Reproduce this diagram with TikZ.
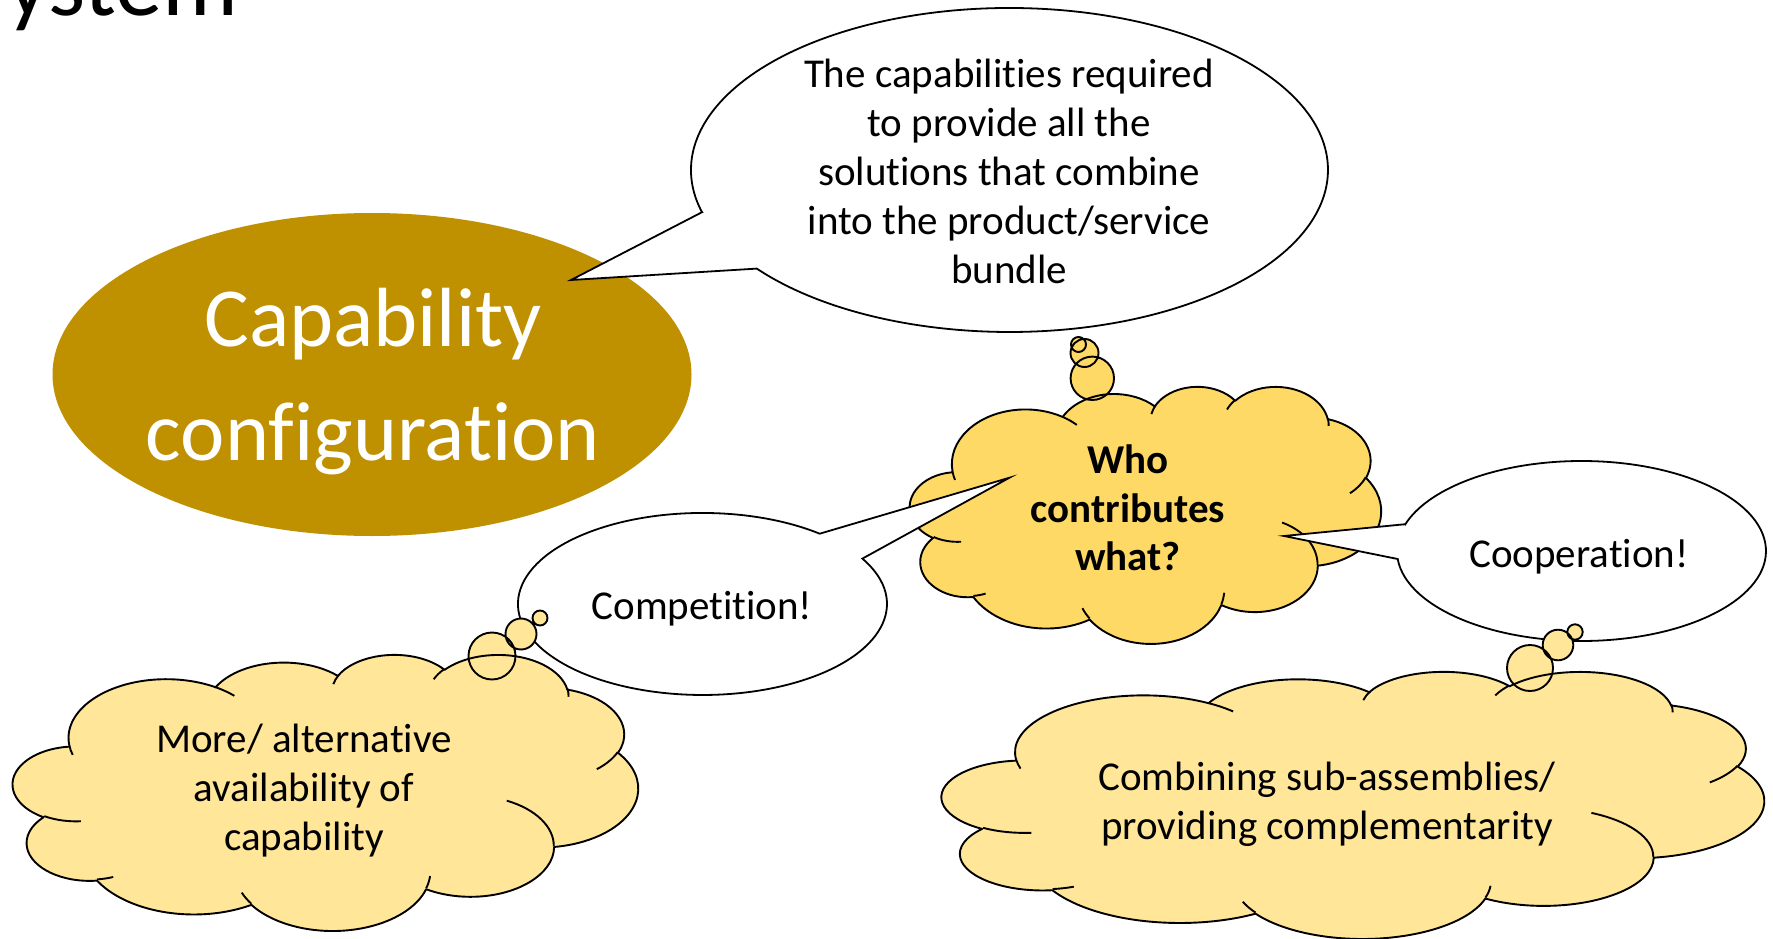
\documentclass[tikz,border=0pt]{standalone}
\usepackage{fontspec}
\setmainfont{Carlito}[Ligatures=NoCommon]
\definecolor{capgold}{HTML}{BF9000}
\definecolor{cloudhi}{HTML}{FFD966}
\definecolor{cloudlo}{HTML}{FFE699}
% PowerPoint cloud outline, in a 432 x 432 box
\newcommand\cldbody{(39.00,143.70)
 arc[oa={67.53}{91.90}{-190.48748}{123.78053}]
 arc[oa={53.33}{72.67}{-144.10238}{89.94523}]
 arc[oa={43.65}{59.45}{-145.80792}{99.72302}]
 arc[oa={48.57}{65.95}{-130.98607}{117.24173}]
 arc[oa={53.33}{72.73}{-78.70888}{109.02692}]
 arc[oa={67.75}{92.20}{-46.26725}{130.26900}]
 arc[oa={57.85}{78.67}{0.62502}{114.03333}]
 arc[oa={67.52}{92.15}{22.45160}{115.17255}]
 arc[oa={77.20}{105.43}{66.24263}{75.71102}]
 arc[oa={43.60}{59.18}{-274.94208}{146.73557}]
 arc[oa={43.45}{59.45}{-246.82850}{152.51885}]
 -- cycle}
\newcommand\cldinner{
 (46.93,261.77) arc[oa={43.45}{59.45}{86.74200}{26.42950}]
 (69.28,348.99) arc[oa={43.60}{59.18}{73.61047}{11.44747}]
 (164.78,390.90) arc[oa={67.52}{92.15}{137.62415}{14.08110}]
 (288.27,347.51) arc[oa={67.52}{92.15}{6.45327}{15.99835}]
 (341.29,229.54) arc[oa={57.85}{78.67}{-70.29235}{70.91737}]
 (417.98,153.54) arc[oa={53.33}{72.73}{30.31803}{27.75150}]
 (383.24,54.26) arc[oa={48.57}{65.95}{-13.74433}{14.85890}]
 (290.78,39.52) arc[oa={48.57}{65.95}{-149.18145}{18.19537}]
 (221.41,47.20) arc[oa={43.65}{59.45}{-163.49427}{17.68635}]
 (140.00,51.92) arc[oa={67.53}{91.90}{-66.70695}{12.31935}]
 (41.27,157.89) arc[oa={67.53}{91.90}{157.65435}{11.85817}]
}
\begin{document}
\begin{tikzpicture}[x=1pt,y=-1pt,
  declare function={vp(\va,\ra,\rb)=\va+mod(atan2(\ra*sin(\va),\rb*cos(\va))-\va+540,360)-180;},
  oa/.code n args={4}{\pgfmathsetmacro\oaS{vp(#3,#1,#2)}\pgfmathsetmacro\oaE{vp(#3+#4,#1,#2)}\tikzset{x radius=#1,y radius=#2,start angle=\oaS,end angle=\oaE}},
  cl/.style={draw=black,line width=1.9pt,line join=round},
  bubble/.style={fill=white,draw=black,line width=1.8pt,line join=miter},
  txt/.style={font=\fontsize{41}{49}\selectfont,align=center,inner sep=0pt,text=black}]
\useasboundingbox (0,0) rectangle (1773,939);
\fill[white] (0,0) rectangle (1773,939);

% title fragment
\node[anchor=base west,inner sep=0pt,font=\fontsize{95}{114}\selectfont] (title) at (6,16) {ystem};

% Capability configuration
\fill[capgold] (372,374.5) ellipse[x radius=319.5,y radius=161.5];
\node[align=center,inner sep=0pt,text=white,font=\fontsize{84}{114}\selectfont] (capTxt) at (373,381.8) {Capability\\configuration};

% top speech bubble
\draw[bubble] (702.0,212.2) -- (571,280) -- (756.8,268.6) arc[start angle=142.5,end angle=-195.1,x radius=318.5,y radius=162] -- cycle;
\node[txt] (bTxt) at (1009,171) {The capabilities required\\to provide all the\\solutions that combine\\into the product/service\\bundle};

% cloud C: who contributes what
\begin{scope}[shift={(910,386)},x=1.09028pt,y=-0.59491pt]
  \fill[cloudhi] \cldbody;
\end{scope}
\fill[cloudhi] (1092.3,378.3) circle[radius=21.7] (1084.5,353) circle[radius=14] (1078.5,344.5) circle[radius=7.5];
\begin{scope}[shift={(910,386)},x=1.09028pt,y=-0.59491pt]
  \draw[cl] \cldbody;
  \draw[cl] \cldinner;
\end{scope}
\draw[cl] (1092.3,378.3) circle[radius=21.7] (1084.5,353) circle[radius=14] (1078.5,344.5) circle[radius=7.5];
\node[txt,font=\fontsize{41}{48.6}\selectfont\bfseries] (cTxt) at (1128,508) {Who\\contributes\\what?};

% Competition bubble
\draw[bubble] (819.7,533.7) -- (1009.5,477.7) -- (862.4,558.6) arc[start angle=-29.9,end angle=309.4,x radius=184.5,y radius=91] -- cycle;
\node[txt,anchor=base] (dTxt) at (702,619) {Competition!};

% Cooperation bubble
\draw[bubble] (1405.3,524.2) -- (1284,536) -- (1397.7,559.0) arc[start angle=174.9,end angle=-162.7,x radius=184.5,y radius=90] -- cycle;
\node[txt,anchor=base] (eTxt) at (1579,567) {Cooperation!};

% cloud F
\begin{scope}[shift={(13,654)},x=1.44676pt,y=-0.63889pt]
  \fill[cloudlo] \cldbody;
\end{scope}
\fill[cloudlo] (492,656) circle[radius=23.5] (521,634) circle[radius=15.5] (540,618) circle[radius=7.5];
\begin{scope}[shift={(13,654)},x=1.44676pt,y=-0.63889pt]
  \draw[cl] \cldbody;
  \draw[cl] \cldinner;
\end{scope}
\draw[cl] (492,656) circle[radius=23.5] (521,634) circle[radius=15.5] (540,618) circle[radius=7.5];
\node[txt] (fTxt) at (304,790.5) {More/ alternative\\availability of\\capability};

% cloud G
\begin{scope}[shift={(942,671)},x=1.90278pt,y=-0.61806pt]
  \fill[cloudlo] \cldbody;
\end{scope}
\fill[cloudlo] (1530,668) circle[radius=23] (1558,645) circle[radius=15.3] (1575,632) circle[radius=7.7];
\begin{scope}[shift={(942,671)},x=1.90278pt,y=-0.61806pt]
  \draw[cl] \cldbody;
  \draw[cl] \cldinner;
\end{scope}
\draw[cl] (1530,668) circle[radius=23] (1558,645) circle[radius=15.3] (1575,632) circle[radius=7.7];
\node[txt] (gTxt) at (1327,804.5) {Combining sub-assemblies/\\providing complementarity};
\end{tikzpicture}
\end{document}
